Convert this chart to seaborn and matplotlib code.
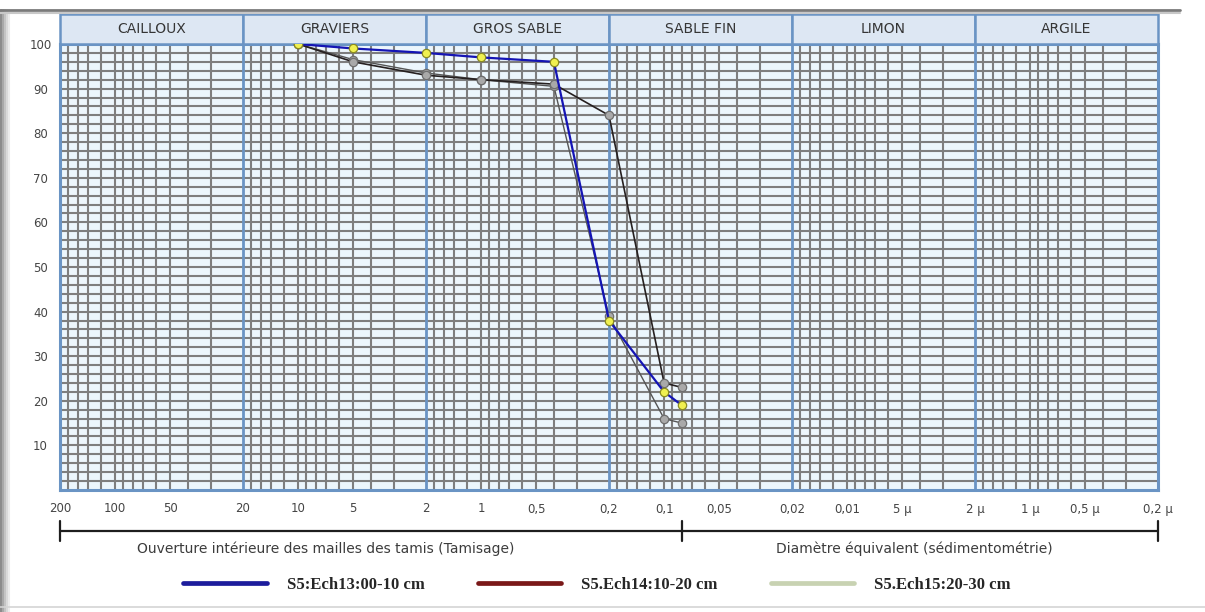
import numpy as np
import pandas as pd
import matplotlib
matplotlib.use("Agg")
import matplotlib.pyplot as plt
import matplotlib.transforms as mtransforms
from matplotlib.patches import Rectangle
from matplotlib.lines import Line2D
import seaborn as sns

# ---------------- data ----------------
sieve_mm = [10, 5, 2, 1, 0.4, 0.2, 0.1, 0.08]
ech13 = [100, 99, 98, 97, 96, 38, 22, 19]
ech14 = [100, 96, 93, 92, 91, 84, 24, 23]
ech15 = [100, 96.5, 93.5, 92, 90.5, 39, 16, 15]
series_names = ["S5:Ech13:00-10 cm", "S5.Ech14:10-20 cm", "S5.Ech15:20-30 cm"]

classes = ["CAILLOUX", "GRAVIERS", "GROS SABLE", "SABLE FIN", "LIMON", "ARGILE"]
class_bounds = [200, 20, 2, 0.2, 0.02, 0.002, 0.0002]
tick_values = [200, 100, 50, 20, 10, 5, 2, 1, 0.5, 0.2, 0.1, 0.05,
               0.02, 0.01, 0.005, 0.002, 0.001, 0.0005, 0.0002]
tick_labels = ["200", "100", "50", "20", "10", "5", "2", "1", "0,5", "0,2",
               "0,1", "0,05", "0,02", "0,01", "5 µ", "2 µ", "1 µ", "0,5 µ", "0,2 µ"]
y_ticks = [10, 20, 30, 40, 50, 60, 70, 80, 90, 100]
sieve_limit = 0.08
axis_titles = ["Ouverture intérieure des mailles des tamis (Tamisage)",
               "Diamètre équivalent (sédimentométrie)"]

df = pd.DataFrame({
    "d": sieve_mm * 3,
    "p": ech13 + ech14 + ech15,
    "s": [series_names[0]] * len(sieve_mm) + [series_names[1]] * len(sieve_mm)
         + [series_names[2]] * len(sieve_mm),
})

# ---------------- figure ----------------
sns.set_style("white")
plt.rcParams["font.family"] = ["DejaVu Sans"]

W, H = 1205, 612
fig = plt.figure(figsize=(W / 100, H / 100), dpi=100)
fig.patch.set_facecolor("white")
ax = fig.add_axes([60 / W, (H - 490) / H, 1098 / W, 446 / H])
ax.set_facecolor("#ecf6fc")
ax.set_xscale("log")
ax.set_xlim(200, 0.0002)
ax.set_ylim(0, 100)

grid_gray = "#7e7e7e"
blue_line = "#6a94c4"

# minor grid
minor_mult = [1.8, 1.6, 1.4, 1.2, 1.0, 0.9, 0.8, 0.7, 0.6, 0.5, 0.4, 0.3]
for hi in class_bounds[:-1]:
    for m in minor_mult:
        ax.axvline(hi / 2 * m, color=grid_gray, lw=1.5, zorder=1)
for yv in range(2, 100, 2):
    ax.axhline(yv, color=grid_gray, lw=1.5, zorder=1)
for b in class_bounds[1:-1]:
    ax.axvline(b, color=blue_line, lw=2.0, zorder=2)

for sp in ax.spines.values():
    sp.set_color(blue_line)
    sp.set_linewidth(2.2)

# ---------------- series ----------------
styles = {
    series_names[2]: dict(color="#555555", lw=1.0, mfc="#a9a9a9", mec="#6e6e6e"),
    series_names[1]: dict(color="#262020", lw=1.2, mfc="#a9a9a9", mec="#6e6e6e"),
    series_names[0]: dict(color="#1414b4", lw=1.6, mfc="#f0f050", mec="#8a8a20"),
}
for k, name in enumerate([series_names[2], series_names[1], series_names[0]]):
    st = styles[name]
    sns.lineplot(data=df[df["s"] == name], x="d", y="p", ax=ax, color=st["color"],
                 lw=st["lw"], marker="o", markersize=6, markerfacecolor=st["mfc"],
                 markeredgecolor=st["mec"], markeredgewidth=0.9, sort=False,
                 estimator=None, legend=False, zorder=5 + k)

# ---------------- ticks ----------------
ax.set_xticks(tick_values)
ax.set_xticklabels(tick_labels)
ax.minorticks_off()
ax.set_yticks(y_ticks)
ax.set_yticklabels([str(v) for v in y_ticks])
ax.tick_params(axis="both", length=0, labelsize=8.5, labelcolor="#454545")
ax.tick_params(axis="x", pad=9)
ax.tick_params(axis="y", pad=14)
for lab in ax.get_yticklabels():
    lab.set_horizontalalignment("center")
ax.set_xlabel("")
ax.set_ylabel("")

# ---------------- header band ----------------
trans = mtransforms.blended_transform_factory(ax.transData, ax.transAxes)
hdr_h = 30 / 446
for i, name in enumerate(classes):
    x0, x1 = class_bounds[i], class_bounds[i + 1]
    ax.add_patch(Rectangle((x0, 1.0), x1 - x0, hdr_h, transform=trans,
                           facecolor="#dde7f3", edgecolor=blue_line, lw=1.8,
                           clip_on=False, zorder=3))
    ax.text(np.sqrt(x0 * x1), 1 + hdr_h / 2, name, transform=trans, ha="center",
            va="center", fontsize=10, color="#353535", clip_on=False, zorder=4)

# ---------------- bottom bracket ----------------
yb = (490 - 531) / 446
tk = 10 / 446
ax.plot([class_bounds[0], class_bounds[-1]], [yb, yb], transform=trans,
        color="#1e1e1e", lw=1.6, clip_on=False)
for xv in [class_bounds[0], sieve_limit, class_bounds[-1]]:
    ax.plot([xv, xv], [yb - tk, yb + tk], transform=trans, color="#1e1e1e",
            lw=1.6, clip_on=False)
yt = (490 - 549) / 446
ax.text((326 - 60) / 1098, yt, axis_titles[0], transform=ax.transAxes, ha="center",
        va="center", fontsize=10, color="#3c3c3c")
ax.text((914 - 60) / 1098, yt, axis_titles[1], transform=ax.transAxes, ha="center",
        va="center", fontsize=10, color="#3c3c3c")

# ---------------- legend ----------------
leg_colors = ["#1c1c9c", "#7a1818", "#c8d2b2"]
handles = [Line2D([0], [0], color=c, lw=3.4) for c in leg_colors]
leg = fig.legend(handles, series_names, loc="center", bbox_to_anchor=(597 / W, (H - 585) / H),
                 ncol=3, frameon=False, handlelength=5.0, handletextpad=1.2,
                 columnspacing=3.2, prop={"family": "Liberation Serif", "weight": "bold",
                                          "size": 12})

# ---------------- screenshot frame ----------------
for i, c in enumerate(["#8c8c8c", "#a8a8a8", "#c4c4c4", "#dadada", "#ececec"]):
    fig.add_artist(Line2D([(1 + 2 * i) / W] * 2, [0, (H - 10) / H], transform=fig.transFigure,
                          color=c, lw=1.5))
fig.add_artist(Line2D([0, 1180 / W], [(H - 10) / H] * 2, transform=fig.transFigure,
                      color="#7a7a7a", lw=2.0))
fig.add_artist(Line2D([0, 1180 / W], [(H - 12.5) / H] * 2, transform=fig.transFigure,
                      color="#c8c8c8", lw=1.5))
fig.add_artist(Line2D([0, 1], [(H - 607) / H] * 2, transform=fig.transFigure,
                      color="#d4d4d4", lw=1.2))

fig.savefig("out.png", dpi=100, facecolor="white")
